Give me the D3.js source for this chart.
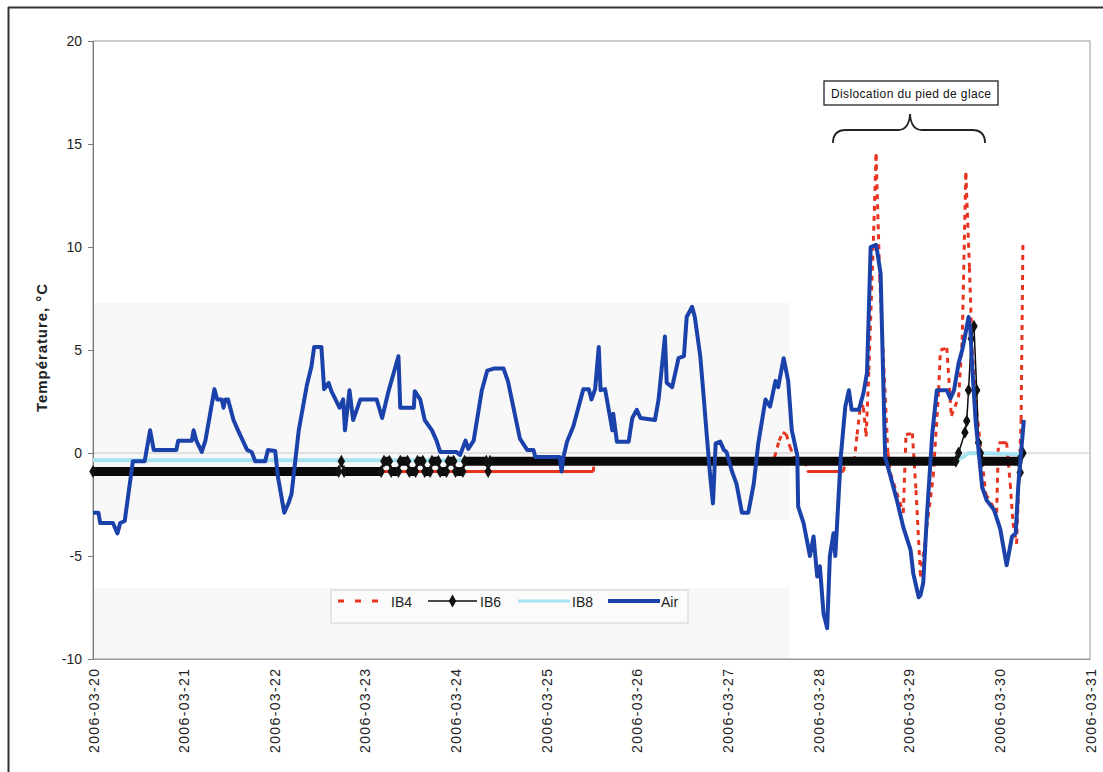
<!DOCTYPE html>
<html><head><meta charset="utf-8">
<script src="https://cdn.jsdelivr.net/npm/d3@7"></script>
<style>
html,body{margin:0;padding:0;background:#fff;}
text{font-family:Arial,"Liberation Sans",sans-serif;}
</style></head>
<body>
<svg id="chart" width="1103" height="772"></svg>
<script>
// ---- data (day offset from 2006-03-20, °C) ----
const xTickLabels = ["2006-03-20","2006-03-21","2006-03-22","2006-03-23","2006-03-24","2006-03-25","2006-03-26","2006-03-27","2006-03-28","2006-03-29","2006-03-30","2006-03-31"];
const yTicks = [-10,-5,0,5,10,15,20];
const seriesNames = ["IB4","IB6","IB8","Air"];

const ib4 = [[0,-0.9],[5.52,-0.9],[5.53,-0.4],[7.48,-0.4],[7.52,-0.2],[7.57,0.6],[7.61,1.0],[7.65,0.9],[7.69,0.3],[7.74,-0.3],[7.86,-0.4],[7.88,-0.9],[8.28,-0.9],[8.30,-0.4],[8.40,-0.4],[8.43,0.9],[8.47,2.4],[8.50,2.2],[8.53,0.8],[8.56,4.0],[8.61,10.3],[8.64,14.5],[8.68,8.5],[8.77,0.0],[8.80,-1.0],[8.94,-2.9],[8.97,0.9],[9.04,0.95],[9.08,-1.8],[9.13,-6.0],[9.27,-1.15],[9.33,3.05],[9.35,5.0],[9.42,5.1],[9.47,1.8],[9.55,2.7],[9.59,5.5],[9.63,13.6],[9.67,9.0],[9.70,5.0],[9.75,2.0],[9.85,-2.0],[9.97,-2.9],[9.99,0.5],[10.08,0.5],[10.12,-1.5],[10.15,-3.4],[10.19,-4.4],[10.24,1.6],[10.26,10.2]];

const ib6 = [[0,-0.9],[2.71,-0.9],[2.74,-0.4],[2.77,-0.9],[3.18,-0.9],[3.21,-0.4],[3.27,-0.4],[3.29,-0.9],[3.37,-0.9],[3.39,-0.4],[3.47,-0.4],[3.49,-0.9],[3.56,-0.9],[3.58,-0.4],[3.64,-0.4],[3.66,-0.9],[3.72,-0.9],[3.74,-0.4],[3.81,-0.4],[3.83,-0.9],[3.90,-0.9],[3.92,-0.4],[3.98,-0.4],[4.00,-0.9],[4.08,-0.9],[4.10,-0.4],[4.34,-0.4],[4.36,-0.9],[4.38,-0.4],[9.52,-0.4],[9.55,0.0],[9.62,1.0],[9.64,1.55],[9.66,3.05],[9.69,5.55],[9.72,6.15],[9.75,3.05],[9.77,0.5],[9.79,0.0],[9.81,-0.4],[10.21,-0.4],[10.23,-0.95],[10.26,0.0]];

const ib8 = [[0,-0.35],[9.52,-0.35],[9.60,-0.2],[9.66,0.0],[10.25,-0.05]];

const air = [[0.00,-2.9],[0.06,-2.9],[0.08,-3.4],[0.22,-3.4],[0.27,-3.9],[0.30,-3.4],[0.35,-3.3],[0.44,-0.4],[0.57,-0.4],[0.59,0.1],[0.63,1.1],[0.67,0.15],[0.92,0.15],[0.94,0.6],[1.09,0.6],[1.11,1.1],[1.14,0.6],[1.20,0.05],[1.24,0.6],[1.28,1.6],[1.34,3.1],[1.37,2.6],[1.42,2.6],[1.44,2.2],[1.46,2.6],[1.49,2.6],[1.55,1.6],[1.60,1.1],[1.70,0.15],[1.75,0.05],[1.79,-0.4],[1.90,-0.4],[1.93,0.15],[2.01,0.1],[2.04,-1.15],[2.11,-2.9],[2.16,-2.4],[2.19,-2.0],[2.27,1.1],[2.36,3.3],[2.41,4.2],[2.44,5.15],[2.52,5.15],[2.55,3.1],[2.60,3.4],[2.63,3.0],[2.67,2.65],[2.72,2.2],[2.76,2.6],[2.78,1.1],[2.83,3.05],[2.87,1.6],[2.95,2.6],[3.13,2.6],[3.19,1.7],[3.26,3.0],[3.37,4.7],[3.39,2.2],[3.54,2.2],[3.55,3.0],[3.61,2.6],[3.66,1.6],[3.74,1.1],[3.79,0.6],[3.83,0.05],[4.01,0.05],[4.05,-0.1],[4.11,0.6],[4.14,0.2],[4.20,0.6],[4.29,3.05],[4.35,4.0],[4.42,4.1],[4.53,4.1],[4.58,3.45],[4.62,2.6],[4.71,0.7],[4.79,0.15],[4.86,0.15],[4.88,-0.2],[5.15,-0.2],[5.17,-0.9],[5.19,-0.2],[5.23,0.55],[5.30,1.3],[5.41,3.1],[5.47,3.1],[5.50,2.6],[5.54,3.1],[5.58,5.15],[5.60,3.05],[5.65,3.1],[5.69,2.1],[5.73,1.1],[5.74,1.9],[5.78,0.55],[5.91,0.55],[5.95,1.7],[6.00,2.1],[6.04,1.7],[6.20,1.6],[6.24,2.6],[6.31,5.65],[6.33,3.4],[6.39,3.2],[6.46,4.6],[6.52,4.7],[6.55,6.6],[6.61,7.1],[6.64,6.6],[6.70,4.7],[6.74,2.6],[6.77,0.95],[6.81,-1.15],[6.84,-2.45],[6.87,0.47],[6.92,0.55],[6.96,0.15],[6.99,0.05],[7.05,-0.9],[7.10,-1.5],[7.16,-2.9],[7.23,-2.9],[7.29,-1.5],[7.34,0.47],[7.42,2.6],[7.47,2.25],[7.53,3.5],[7.56,3.2],[7.62,4.6],[7.67,3.5],[7.71,1.1],[7.77,-0.1],[7.78,-2.6],[7.84,-3.4],[7.91,-5.0],[7.95,-4.05],[7.99,-6.0],[8.02,-5.5],[8.06,-7.8],[8.10,-8.5],[8.13,-5.0],[8.17,-3.9],[8.19,-5.0],[8.25,-0.2],[8.30,2.25],[8.34,3.05],[8.37,2.1],[8.45,2.1],[8.50,2.9],[8.54,3.9],[8.58,10.0],[8.64,10.1],[8.65,9.85],[8.69,8.7],[8.74,-0.2],[8.80,-1.15],[8.87,-2.3],[8.94,-3.6],[9.02,-4.7],[9.05,-5.85],[9.11,-7.0],[9.13,-6.9],[9.16,-6.3],[9.20,-3.1],[9.26,0.95],[9.31,3.05],[9.42,3.05],[9.46,2.65],[9.50,3.05],[9.55,4.35],[9.59,5.0],[9.62,5.65],[9.66,6.6],[9.68,6.0],[9.70,4.2],[9.74,1.45],[9.77,0.15],[9.81,-1.65],[9.86,-2.3],[9.94,-2.75],[10.01,-3.7],[10.08,-5.45],[10.14,-4.05],[10.18,-3.9],[10.21,-1.5],[10.27,1.6]];

const annotationText = "Dislocation du pied de glace";
const yTitle = "Température, °C";

// ---- layout ----
const svg = d3.select("#chart");
const L = 93, R = 1090, T = 41, B = 659;
const t0 = Date.UTC(2006,2,20);
const toDate = d => new Date(t0 + d*864e5);
const x = d3.scaleUtc().domain([toDate(0), toDate(11)]).range([L, R]);
const y = d3.scaleLinear().domain([-10,20]).range([B, T]);
const px = d => x(toDate(d[0])), py = d => y(d[1]);

// outer frame
svg.append("line").attr("x1",8).attr("x2",1103).attr("y1",7.5).attr("y2",7.5).attr("stroke","#333").attr("stroke-width",2);
svg.append("line").attr("x1",8.5).attr("x2",8.5).attr("y1",7).attr("y2",772).attr("stroke","#333").attr("stroke-width",2);

// faint scan shading
svg.append("rect").attr("x",L).attr("y",303).attr("width",697).attr("height",217).attr("fill","#f8f8f8");
svg.append("rect").attr("x",L).attr("y",588).attr("width",697).attr("height",B-588).attr("fill","#f8f8f8");

// plot border
svg.append("rect").attr("x",L).attr("y",T).attr("width",R-L).attr("height",B-T)
  .attr("fill","none").attr("stroke","#9a9a9a").attr("stroke-width",1);

// zero line
svg.append("line").attr("x1",L).attr("x2",R).attr("y1",y(0)).attr("y2",y(0)).attr("stroke","#c8c8c8").attr("stroke-width",1);

// y axis
const yAxis = d3.axisLeft(y).tickValues(yTicks).tickSize(5).tickPadding(6).tickFormat(d => String(d));
const gy = svg.append("g").attr("transform",`translate(${L},0)`).call(yAxis);
gy.select(".domain").attr("stroke","#777");
gy.selectAll(".tick line").attr("stroke","#777");
gy.selectAll(".tick text").attr("font-size",14).attr("fill","#222").attr("font-family","Arial, 'Liberation Sans', sans-serif");

// x axis
const xTicks = xTickLabels.map((s,i)=>toDate(i));
const xAxis = d3.axisBottom(x).tickValues(xTicks).tickSize(0).tickFormat((d,i)=>xTickLabels[i]);
const gx = svg.append("g").attr("transform",`translate(0,${B})`).call(xAxis);
gx.select(".domain").attr("stroke","#999");
gx.selectAll(".tick text")
  .attr("font-size",14).attr("fill","#222").attr("font-family","Arial, 'Liberation Sans', sans-serif")
  .attr("text-anchor","end").attr("transform","rotate(-90)")
  .attr("x",-10).attr("y",0).attr("dy","0.36em")
  .attr("textLength",84).attr("lengthAdjust","spacing");

// y title
svg.append("text").attr("transform","translate(47,348) rotate(-90)")
  .attr("text-anchor","middle").attr("font-size",15).attr("font-weight","bold").attr("fill","#222")
  .attr("textLength",128).attr("lengthAdjust","spacing").text(yTitle);

const line = d3.line().x(px).y(py);
const plot = svg.append("g");

// IB4: runs of equal values look solid (dense points), changes dashed
const ib4g = plot.append("g");
for (let i=1;i<ib4.length;i++){
  const a=ib4[i-1], b=ib4[i];
  const flat = a[1]===b[1];
  ib4g.append("line").attr("x1",px(a)).attr("y1",py(a)).attr("x2",px(b)).attr("y2",py(b))
    .attr("stroke","#e8341f").attr("stroke-width",3)
    .attr("stroke-dasharray",flat?null:"5,5");
}
// IB8
plot.append("path").datum(ib8).attr("d",line).attr("fill","none")
  .attr("stroke","#a6e2ef").attr("stroke-width",4);
// IB6: flat runs drawn heavy (overlapping markers), changes thin
const ib6g = plot.append("g");
for (let i=1;i<ib6.length;i++){
  const a=ib6[i-1], b=ib6[i];
  const flat = a[1]===b[1];
  ib6g.append("line").attr("x1",px(a)).attr("y1",py(a)).attr("x2",px(b)).attr("y2",py(b))
    .attr("stroke","#0a0a0a").attr("stroke-width",flat?9:1.5);
}
const diamond = d3.symbol().type(d3.symbolDiamond).size(48);
ib6g.selectAll("path.mk").data(ib6).join("path").attr("class","mk")
  .attr("transform",d=>`translate(${px(d)},${py(d)})`)
  .attr("d",diamond).attr("fill","#111");
// Air
plot.append("path").datum(air).attr("d",line).attr("fill","none")
  .attr("stroke","#1b42aa").attr("stroke-width",4).attr("stroke-linejoin","round");

// annotation
svg.append("rect").attr("x",824).attr("y",81).attr("width",174).attr("height",24)
  .attr("fill","#fff").attr("stroke","#222").attr("stroke-width",1.3);
svg.append("text").attr("x",911).attr("y",97.5).attr("text-anchor","middle").attr("font-size",12)
  .attr("fill","#111").attr("textLength",160).attr("lengthAdjust","spacing").text(annotationText);
svg.append("path").attr("fill","none").attr("stroke","#222").attr("stroke-width",1.8)
  .attr("d","M833,143 Q833,130 846,130 L898,130 Q909,130 910,114 Q911,130 922,130 L972,130 Q985,130 985,143");

// legend
const lg = svg.append("g");
lg.append("rect").attr("x",331).attr("y",590).attr("width",357).attr("height",33)
  .attr("fill","#fbfbfb").attr("stroke","#d0d0d0").attr("stroke-width",1);
const ly = 601;
const items = [
  {name:seriesNames[0], x1:338, x2:382, tx:391},
  {name:seriesNames[1], x1:428, x2:477, tx:480},
  {name:seriesNames[2], x1:518, x2:570, tx:572},
  {name:seriesNames[3], x1:608, x2:660, tx:661}
];
lg.append("line").attr("x1",items[0].x1).attr("x2",items[0].x2).attr("y1",ly).attr("y2",ly)
  .attr("stroke","#e8341f").attr("stroke-width",3).attr("stroke-dasharray","6,11");
lg.append("line").attr("x1",items[1].x1).attr("x2",items[1].x2).attr("y1",ly).attr("y2",ly)
  .attr("stroke","#111").attr("stroke-width",1.5);
lg.append("path").attr("transform",`translate(${(items[1].x1+items[1].x2)/2},${ly})`).attr("d",diamond).attr("fill","#111");
lg.append("line").attr("x1",items[2].x1).attr("x2",items[2].x2).attr("y1",ly).attr("y2",ly)
  .attr("stroke","#a6e2ef").attr("stroke-width",3);
lg.append("line").attr("x1",items[3].x1).attr("x2",items[3].x2).attr("y1",ly).attr("y2",ly)
  .attr("stroke","#1b42aa").attr("stroke-width",4);
items.forEach(it=>{
  lg.append("text").attr("x",it.tx).attr("y",ly+5.5).attr("font-size",14).attr("fill","#222").text(it.name);
});
</script>
</body></html>
